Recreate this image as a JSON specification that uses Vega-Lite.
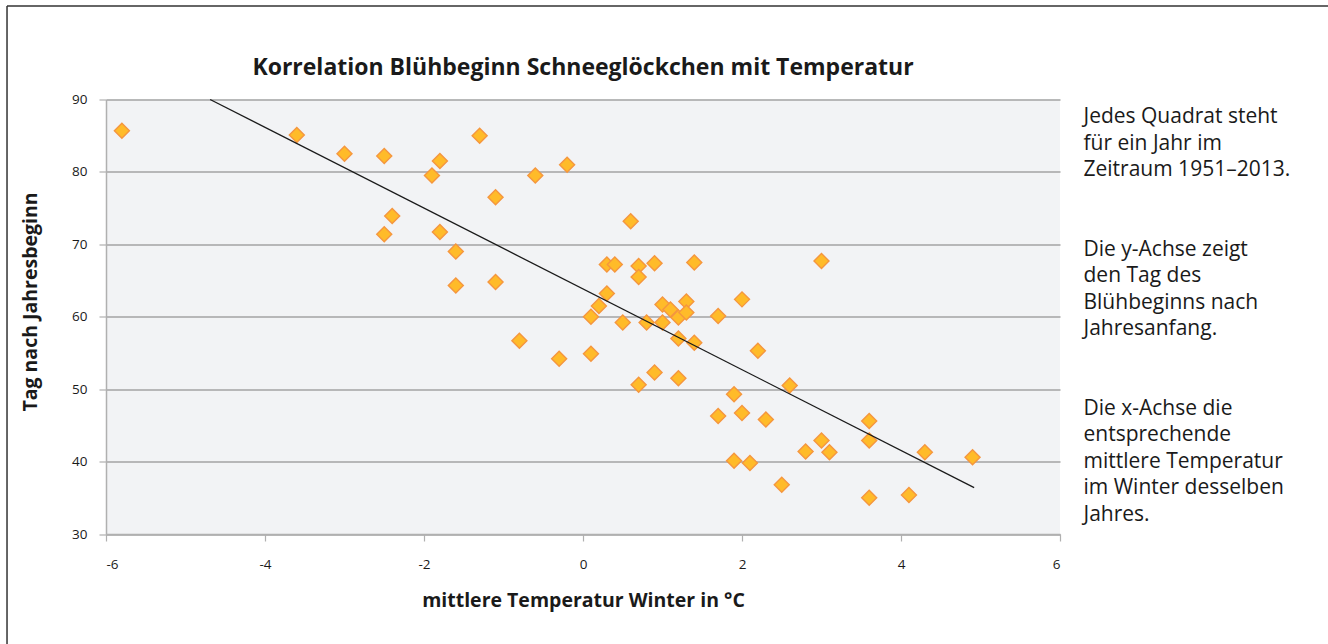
{
  "$schema": "https://vega.github.io/schema/vega-lite/v6.json",
  "width": 954,
  "height": 434.5,
  "autosize": {"type": "none"},
  "padding": {"left": 106, "top": 99.5, "right": 268, "bottom": 110},
  "background": "white",
  "title": {
    "text": "Korrelation Blühbeginn Schneeglöckchen mit Temperatur",
    "anchor": "middle",
    "frame": "group",
    "font": "Open Sans",
    "fontSize": 23,
    "fontWeight": "bold",
    "color": "#1a1a1a",
    "baseline": "alphabetic",
    "offset": -93
  },
  "datasets": {
    "jahre": [
      {"temperatur": -5.8, "tag": 85.7},
      {"temperatur": -3.6, "tag": 85.1},
      {"temperatur": -3.0, "tag": 82.5},
      {"temperatur": -2.5, "tag": 82.2},
      {"temperatur": -1.9, "tag": 79.5},
      {"temperatur": -1.8, "tag": 81.5},
      {"temperatur": -2.4, "tag": 73.9},
      {"temperatur": -2.5, "tag": 71.4},
      {"temperatur": -1.8, "tag": 71.7},
      {"temperatur": -1.6, "tag": 69.0},
      {"temperatur": -1.6, "tag": 64.3},
      {"temperatur": -1.3, "tag": 85.0},
      {"temperatur": -1.1, "tag": 76.5},
      {"temperatur": -1.1, "tag": 64.8},
      {"temperatur": -0.8, "tag": 56.7},
      {"temperatur": -0.6, "tag": 79.5},
      {"temperatur": -0.2, "tag": 81.0},
      {"temperatur": -0.3, "tag": 54.2},
      {"temperatur": 0.1, "tag": 60.0},
      {"temperatur": 0.1, "tag": 54.9},
      {"temperatur": 0.2, "tag": 61.5},
      {"temperatur": 0.3, "tag": 63.2},
      {"temperatur": 0.3, "tag": 67.2},
      {"temperatur": 0.4, "tag": 67.2},
      {"temperatur": 0.6, "tag": 73.2},
      {"temperatur": 0.7, "tag": 67.0},
      {"temperatur": 0.7, "tag": 65.5},
      {"temperatur": 0.9, "tag": 67.4},
      {"temperatur": 1.4, "tag": 67.5},
      {"temperatur": 3.0, "tag": 67.7},
      {"temperatur": 0.5, "tag": 59.2},
      {"temperatur": 0.8, "tag": 59.2},
      {"temperatur": 1.0, "tag": 61.7},
      {"temperatur": 1.1, "tag": 61.0},
      {"temperatur": 1.2, "tag": 59.9},
      {"temperatur": 1.0, "tag": 59.2},
      {"temperatur": 1.3, "tag": 62.1},
      {"temperatur": 1.3, "tag": 60.6},
      {"temperatur": 1.7, "tag": 60.1},
      {"temperatur": 2.0, "tag": 62.4},
      {"temperatur": 1.2, "tag": 57.0},
      {"temperatur": 1.4, "tag": 56.4},
      {"temperatur": 2.2, "tag": 55.3},
      {"temperatur": 0.7, "tag": 50.6},
      {"temperatur": 0.9, "tag": 52.3},
      {"temperatur": 1.2, "tag": 51.5},
      {"temperatur": 2.6, "tag": 50.5},
      {"temperatur": 1.9, "tag": 49.3},
      {"temperatur": 1.7, "tag": 46.3},
      {"temperatur": 2.0, "tag": 46.7},
      {"temperatur": 2.3, "tag": 45.8},
      {"temperatur": 3.6, "tag": 45.6},
      {"temperatur": 3.0, "tag": 42.9},
      {"temperatur": 3.6, "tag": 42.9},
      {"temperatur": 2.8, "tag": 41.4},
      {"temperatur": 3.1, "tag": 41.3},
      {"temperatur": 4.3, "tag": 41.3},
      {"temperatur": 4.9, "tag": 40.6},
      {"temperatur": 1.9, "tag": 40.1},
      {"temperatur": 2.1, "tag": 39.8},
      {"temperatur": 2.5, "tag": 36.8},
      {"temperatur": 3.6, "tag": 35.0},
      {"temperatur": 4.1, "tag": 35.4}
    ],
    "trend": [
      {"temperatur": -4.69, "tag": 90.0},
      {"temperatur": 4.92, "tag": 36.4}
    ]
  },
  "layer": [
    {
      "layer": [
        {
          "data": {"values": [{}]},
          "mark": {"type": "rule", "color": "#333333", "strokeWidth": 1.5, "clip": false},
          "encoding": {
            "x": {"datum": -7.245, "type": "quantitative", "scale": {"domain": [-6, 6], "nice": false, "zero": false}},
            "x2": {"datum": 9.5},
            "y": {"datum": 102.9, "type": "quantitative", "scale": {"domain": [30, 90], "nice": false, "zero": false}}
          }
        },
        {
          "data": {"values": [{}]},
          "mark": {"type": "rule", "color": "#333333", "strokeWidth": 1.5, "clip": false},
          "encoding": {
            "x": {"datum": -7.245, "type": "quantitative"},
            "y": {"datum": 102.9, "type": "quantitative"},
            "y2": {"datum": 10}
          }
        },
        {
          "data": {"name": "jahre"},
          "mark": {
            "type": "point",
            "shape": "diamond",
            "filled": true,
            "fill": "#ffbb29",
            "stroke": "#f5963f",
            "strokeWidth": 1.4,
            "size": 225,
            "opacity": 1
          },
          "encoding": {
            "x": {
              "field": "temperatur",
              "type": "quantitative",
              "scale": {"domain": [-6, 6], "nice": false, "zero": false},
              "axis": {
                "values": [-6, -4, -2, 0, 2, 4, 6],
                "labelExpr": "'' + datum.value",
                "grid": false,
                "title": "mittlere Temperatur Winter in °C",
                "titlePadding": 21
              }
            },
            "y": {
              "field": "tag",
              "type": "quantitative",
              "scale": {"domain": [30, 90], "nice": false, "zero": false},
              "axis": {
                "values": [30, 40, 50, 60, 70, 80, 90],
                "grid": true,
                "title": "Tag nach Jahresbeginn",
                "titlePadding": 31,
                "titleY": 202
              }
            }
          }
        }
      ]
    },
    {
      "data": {"name": "trend"},
      "mark": {"type": "line", "color": "#1a1a1a", "strokeWidth": 1.3},
      "encoding": {
        "x": {"field": "temperatur", "type": "quantitative"},
        "y": {
          "field": "tag",
          "type": "quantitative",
          "scale": {"domain": [30, 90], "nice": false, "zero": false},
          "axis": {
            "orient": "right",
            "labels": false,
            "ticks": false,
            "domain": false,
            "grid": false,
            "title": [
              "Jedes Quadrat steht",
              "für ein Jahr im",
              "Zeitraum 1951–2013.",
              "\u200b",
              "\u200b",
              "Die y-Achse zeigt",
              "den Tag des",
              "Blühbeginns nach",
              "Jahresanfang.",
              "\u200b",
              "\u200b",
              "Die x-Achse die",
              "entsprechende",
              "mittlere Temperatur",
              "im Winter desselben",
              "Jahres."
            ],
            "titleAngle": 0,
            "titleAlign": "left",
            "titleBaseline": "alphabetic",
            "titleX": 23,
            "titleY": 23,
            "titleFontSize": 21,
            "titleFontWeight": "normal",
            "titleLineHeight": 26.5,
            "titleColor": "#1a1a1a"
          }
        }
      }
    }
  ],
  "resolve": {"scale": {"y": "independent"}},
  "config": {
    "font": "Open Sans",
    "view": {"stroke": null, "fill": "#f2f3f5"},
    "axis": {
      "labelFont": "Open Sans",
      "labelFontSize": 13.5,
      "labelColor": "#1a1a1a",
      "titleFont": "Open Sans",
      "titleFontSize": 19.5,
      "titleFontWeight": "bold",
      "titleColor": "#1a1a1a",
      "domainColor": "#b0b0b0",
      "domainWidth": 1.5,
      "tickColor": "#b0b0b0",
      "tickWidth": 1.2,
      "tickSize": 7,
      "gridColor": "#a3a3a3",
      "gridWidth": 1.3
    },
    "axisX": {"labelPadding": 16},
    "axisY": {"labelPadding": 12}
  }
}
